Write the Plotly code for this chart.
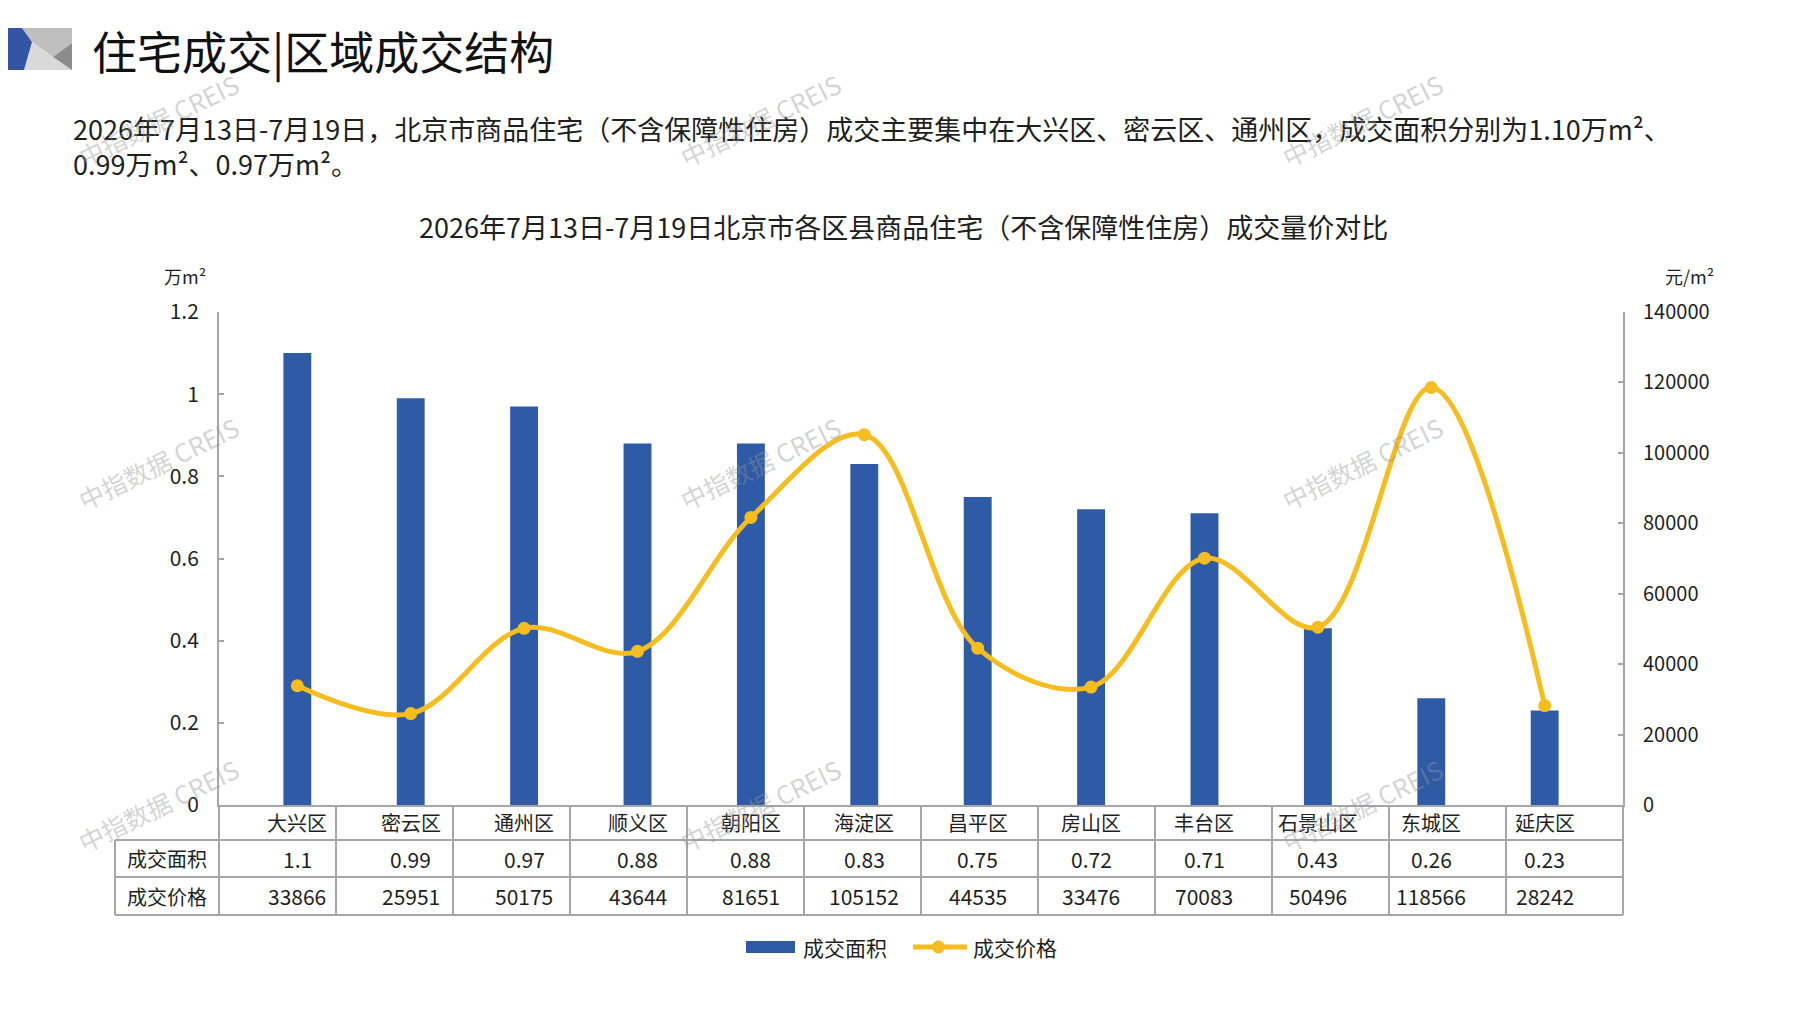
import plotly.graph_objects as go

# ---------------- data ----------------
districts = ["大兴区", "密云区", "通州区", "顺义区", "朝阳区", "海淀区",
             "昌平区", "房山区", "丰台区", "石景山区", "东城区", "延庆区"]
area_values = [1.1, 0.99, 0.97, 0.88, 0.88, 0.83, 0.75, 0.72, 0.71, 0.43, 0.26, 0.23]
area_labels = ["1.1", "0.99", "0.97", "0.88", "0.88", "0.83", "0.75", "0.72", "0.71", "0.43", "0.26", "0.23"]
price_values = [33866, 25951, 50175, 43644, 81651, 105152, 44535, 33476, 70083, 50496, 118566, 28242]
series_names = ["成交面积", "成交价格"]
left_ticks = [0, 0.2, 0.4, 0.6, 0.8, 1, 1.2]
right_ticks = [0, 20000, 40000, 60000, 80000, 100000, 120000, 140000]

title_text = "住宅成交|区域成交结构"
para_line1 = "2026年7月13日-7月19日，北京市商品住宅（不含保障性住房）成交主要集中在大兴区、密云区、通州区，成交面积分别为1.10万m²、"
para_line2 = "0.99万m²、0.97万m²。"
chart_title = "2026年7月13日-7月19日北京市各区县商品住宅（不含保障性住房）成交量价对比"
left_unit = "万m²"
right_unit = "元/m²"
watermark = "中指数据 CREIS"

# ---------------- layout geometry (reference pixels) ----------------
W, H = 1797, 1010
OFF = 8                      # page body margin added by the html page
FW, FH = W - 2 * OFF, H - 2 * OFF
L, R, T, B = 219, 1623, 312, 805
PW, PH = R - L, B - T

def px(x):
    return (x - L) / PW

def py(y):
    return (B - y) / PH

BAR_COLOR = "#2F5AA6"
LINE_COLOR = "#F5BD1F"
GRID_COLOR = "#A6A6A6"
TEXT = "#1F1F1F"
CJK = "Noto Sans CJK SC"
NUM = "Liberation Sans Narrow, Noto Sans CJK SC"

fig = go.Figure()
fig.add_trace(go.Bar(
    x=districts, y=area_values, name=series_names[0],
    marker=dict(color=BAR_COLOR, line=dict(width=0)),
    yaxis="y", hoverinfo="skip",
))
fig.add_trace(go.Scatter(
    x=districts, y=price_values, name=series_names[1],
    mode="lines+markers",
    line=dict(color=LINE_COLOR, width=5, shape="spline", smoothing=1.0),
    marker=dict(color=LINE_COLOR, size=13),
    yaxis="y2", hoverinfo="skip",
))

shapes = []
annotations = []

# header icon
def path(points):
    return "M " + " L ".join(f"{px(x):.5f},{py(y):.5f}" for x, y in points) + " Z"

icon = [
    ("#BFBFBF", [(22, 28), (72, 28), (72, 43), (53, 57), (32, 42)]),
    ("#D9D9D9", [(32, 42), (53, 57), (72, 70), (24, 70)]),
    ("#8C8C8C", [(72, 43), (72, 70), (53, 57)]),
    ("#3353A3", [(OFF, 28), (22, 28), (32, 42), (24, 70), (OFF, 70)]),
]
for col, pts in icon:
    shapes.append(dict(type="path", xref="paper", yref="paper", path=path(pts),
                       fillcolor=col, line=dict(width=0), layer="above"))

# header title
annotations.append(dict(xref="paper", yref="paper", x=px(90), y=py(50), text=title_text,
                        showarrow=False, xanchor="left", yanchor="middle",
                        font=dict(family=CJK, size=45, color="#111111")))
# paragraph
for yy, txt in [(129, para_line1), (163, para_line2)]:
    annotations.append(dict(xref="paper", yref="paper", x=px(71), y=py(yy), text=txt,
                            showarrow=False, xanchor="left", yanchor="middle",
                            font=dict(family=NUM, size=27, color=TEXT)))
# chart title
annotations.append(dict(xref="paper", yref="paper", x=px(903), y=py(226), text=chart_title,
                        showarrow=False, xanchor="center", yanchor="middle",
                        font=dict(family=NUM, size=27, color=TEXT)))
# units
annotations.append(dict(xref="paper", yref="paper", x=px(185), y=py(276), text=left_unit,
                        showarrow=False, xanchor="center", yanchor="middle",
                        font=dict(family=NUM, size=18, color=TEXT)))
annotations.append(dict(xref="paper", yref="paper", x=px(1690), y=py(276), text=right_unit,
                        showarrow=False, xanchor="center", yanchor="middle",
                        font=dict(family=NUM, size=18, color=TEXT)))

# ---------------- data table under the chart ----------------
row_top, row1, row2, row_bot = B, 840, 877, 915
tbl_left = 115
lw = 2
for yy in (row1, row2, row_bot):
    shapes.append(dict(type="line", xref="paper", yref="paper", x0=px(tbl_left), x1=px(R),
                       y0=py(yy), y1=py(yy), line=dict(color=GRID_COLOR, width=lw)))
shapes.append(dict(type="line", xref="paper", yref="paper", x0=px(tbl_left), x1=px(tbl_left),
                   y0=py(row1), y1=py(row_bot), line=dict(color=GRID_COLOR, width=lw)))
ncat = len(districts)
for k in range(ncat + 1):
    xx = L + k * PW / ncat
    shapes.append(dict(type="line", xref="paper", yref="paper", x0=px(xx), x1=px(xx),
                       y0=py(row_top), y1=py(row_bot), line=dict(color=GRID_COLOR, width=lw)))

for name, yy in [(series_names[0], (row1 + row2) / 2), (series_names[1], (row2 + row_bot) / 2)]:
    annotations.append(dict(xref="paper", yref="paper", x=px((tbl_left + L) / 2), y=py(yy),
                            text=name, showarrow=False, xanchor="center", yanchor="middle",
                            font=dict(family=CJK, size=20, color=TEXT)))
for d, a, p in zip(districts, area_labels, price_values):
    annotations.append(dict(xref="x", yref="paper", x=d, y=py((row_top + row1) / 2), text=d,
                            showarrow=False, xanchor="center", yanchor="middle",
                            font=dict(family=CJK, size=20, color=TEXT)))
    annotations.append(dict(xref="x", yref="paper", x=d, y=py((row1 + row2) / 2), text=a,
                            showarrow=False, xanchor="center", yanchor="middle",
                            font=dict(family=NUM, size=21, color=TEXT)))
    annotations.append(dict(xref="x", yref="paper", x=d, y=py((row2 + row_bot) / 2), text=str(p),
                            showarrow=False, xanchor="center", yanchor="middle",
                            font=dict(family=NUM, size=21, color=TEXT)))

# ---------------- custom legend ----------------
leg_y = 947
shapes.append(dict(type="rect", xref="paper", yref="paper", x0=px(746), x1=px(795),
                   y0=py(leg_y - 6), y1=py(leg_y + 6), fillcolor=BAR_COLOR, line=dict(width=0)))
annotations.append(dict(xref="paper", yref="paper", x=px(801), y=py(leg_y), text=series_names[0],
                        showarrow=False, xanchor="left", yanchor="middle",
                        font=dict(family=CJK, size=21, color=TEXT)))
shapes.append(dict(type="line", xref="paper", yref="paper", x0=px(913), x1=px(967),
                   y0=py(leg_y), y1=py(leg_y), line=dict(color=LINE_COLOR, width=5)))
shapes.append(dict(type="circle", xref="paper", yref="paper", x0=px(932), x1=px(945),
                   y0=py(leg_y - 6.5), y1=py(leg_y + 6.5), fillcolor=LINE_COLOR, line=dict(width=0)))
annotations.append(dict(xref="paper", yref="paper", x=px(971), y=py(leg_y), text=series_names[1],
                        showarrow=False, xanchor="left", yanchor="middle",
                        font=dict(family=CJK, size=21, color=TEXT)))

# ---------------- watermarks ----------------
for wy in (120, 463, 805):
    for wx in (158, 760, 1362):
        annotations.append(dict(xref="paper", yref="paper", x=px(wx), y=py(wy), text=watermark,
                                showarrow=False, xanchor="center", yanchor="middle", textangle=-26,
                                font=dict(family="Noto Sans CJK SC, Liberation Sans", size=25,
                                          color="rgba(150,150,150,0.42)")))

fig.update_layout(
    width=FW, height=FH,
    margin=dict(l=L - OFF, r=FW - (R - OFF), t=T - OFF, b=FH - (B - OFF), pad=0),
    paper_bgcolor="white", plot_bgcolor="white",
    showlegend=False,
    bargap=0.754,
    xaxis=dict(type="category", categoryorder="array", categoryarray=districts,
               showticklabels=False, ticks="", showgrid=False, zeroline=False,
               showline=True, linecolor=GRID_COLOR, linewidth=2, fixedrange=True),
    yaxis=dict(range=[0, 1.2], tickvals=left_ticks, showgrid=False, zeroline=False,
               showline=True, linecolor=GRID_COLOR, linewidth=2,
               ticks="inside", ticklen=5, tickcolor=GRID_COLOR, tickwidth=1.5,
               ticklabelstandoff=14,
               tickfont=dict(family=NUM, size=21, color=TEXT)),
    yaxis2=dict(range=[0, 140000], tickvals=right_ticks, tickformat="d",
                overlaying="y", side="right", showgrid=False, zeroline=False,
                showline=True, linecolor=GRID_COLOR, linewidth=2,
                ticks="inside", ticklen=5, tickcolor=GRID_COLOR, tickwidth=1.5,
                ticklabelstandoff=14,
                tickfont=dict(family=NUM, size=20, color=TEXT)),
    shapes=shapes,
    annotations=annotations,
)

fig.write_html("out.html")
